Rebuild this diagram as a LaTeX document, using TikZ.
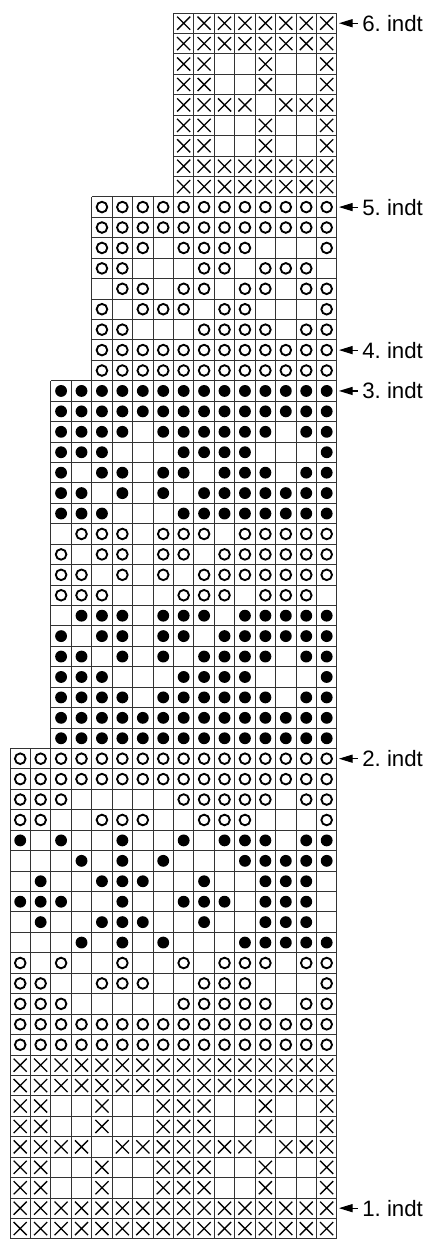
\documentclass[tikz,border=0pt]{standalone}
\usepackage{fontspec}
\setmainfont{Liberation Sans}
\usetikzlibrary{arrows.meta}
\tikzset{
  gridline/.style={draw=black!80,line width=0.6pt,step=5mm},
  crossmark/.style={draw=black,line width=0.9pt},
  ringmark/.style={draw=black,line width=1.3pt},
  dotmark/.style={fill=black},
  rowlabel/.style={anchor=west,inner xsep=0.1cm,inner ysep=0pt,font=\fontsize{15.5}{17}\selectfont},
  pointer/.style={line width=0.8pt,-{Triangle[length=9.5pt,width=5.6pt]}}
}
% one chart cell: x = knit cross, o = ring, d = dot, - = empty
\def\stitch#1{%
  \if#1x\draw[crossmark] (\colno+.5,-\rowno+.5) +(-.32,-.32) -- +(.32,.32) +(-.32,.32) -- +(.32,-.32);\fi
  \if#1o\draw[ringmark] (\colno+.5,-\rowno+.5) circle[radius=.26];\fi
  \if#1d\fill[dotmark] (\colno+.5,-\rowno+.5) circle[radius=.29];\fi}
\def\stitchparse#1{%
  \ifx#1\relax
  \else
    \stitch{#1}%
    \pgfmathtruncatemacro\colno{\colno+1}%
    \expandafter\stitchparse
  \fi}
\newcommand\stitchrow[3]{%
  \def\rowno{#1}\def\colno{#2}\edef\rowpat{#3}%
  \expandafter\stitchparse\rowpat\relax}

\begin{document}
\begin{tikzpicture}[x=5mm,y=5mm]
\useasboundingbox (-0.49,0.636) rectangle (20.655,-60.108);
% grids of the four widths
\draw[gridline] (8,0) grid (16,-9);
\draw[gridline] (4,-9) grid (16,-18);
\draw[gridline] (2,-18) grid (16,-36);
\draw[gridline] (0,-36) grid (16,-60);
% rows, top to bottom: row/first column/pattern
\foreach \r/\c/\pat in {
  1/8/xxxxxxxx, 2/8/xxxxxxxx, 3/8/xx--x--x, 4/8/xx--x--x, 5/8/xxxx-xxx,
  6/8/xx--x--x, 7/8/xx--x--x, 8/8/xxxxxxxx, 9/8/xxxxxxxx,
  10/4/oooooooooooo, 11/4/oooooooooooo, 12/4/ooo-oooo---o, 13/4/oo---oo-ooo-,
  14/4/-oo-oo-oo-oo, 15/4/o-ooo-oo---o, 16/4/oo---oooo-oo, 17/4/oooooooooooo,
  18/4/oooooooooooo,
  19/2/dddddddddddddd, 20/2/dddddddddddddd, 21/2/dddd-dddddd-dd, 22/2/ddd---dddd---d,
  23/2/d-dd-dd-ddd-dd, 24/2/dd-d-d-ddddddd, 25/2/ddd---dddddddd,
  26/2/-ooo-ooo-ooooo, 27/2/o-oo-oo-oooooo, 28/2/oo-o-o-ooooooo, 29/2/ooo---ooo-ooo-,
  30/2/-ddd-ddd-ddddd, 31/2/d-dd-dd-dddddd, 32/2/dd-d-d-dddd-dd, 33/2/ddd---dddd---d,
  34/2/dddd-dddddd-dd, 35/2/dddddddddddddd, 36/2/dddddddddddddd,
  37/0/oooooooooooooooo, 38/0/oooooooooooooooo, 39/0/ooo-----ooooo-oo,
  40/0/oo--ooo--ooo---o, 41/0/d-d--d--d-ddd-dd, 42/0/---d-d-d---ddddd,
  43/0/-d--ddd--d--ddd-, 44/0/ddd--d--ddd-ddd-, 45/0/-d--ddd--d--ddd-,
  46/0/---d-d-d---ddddd, 47/0/o-o--o--o-ooo-oo, 48/0/oo--ooo--ooo---o,
  49/0/ooo-----ooooo-oo, 50/0/oooooooooooooooo, 51/0/oooooooooooooooo,
  52/0/xxxxxxxxxxxxxxxx, 53/0/xxxxxxxxxxxxxxxx, 54/0/xx--x--xxx--x--x,
  55/0/xx--x--xxx--x--x, 56/0/xxxx-xxxxxxx-xxx, 57/0/xx--x--xxx--x--x,
  58/0/xx--x--xxx--x--x, 59/0/xxxxxxxxxxxxxxxx, 60/0/xxxxxxxxxxxxxxxx}
  {\stitchrow{\r}{\c}{\pat}}
% round markers
\foreach \r/\n in {1/6, 10/5, 17/4, 19/3, 37/2, 59/1} {
  \node[rowlabel] (lab\n) at (17.03,-\r+.5) {\n.\ indt};
  \coordinate (tip\n) at (16.1,-\r+.5);
  \draw[pointer] (lab\n.west) -- (tip\n);
}
\end{tikzpicture}
\end{document}
